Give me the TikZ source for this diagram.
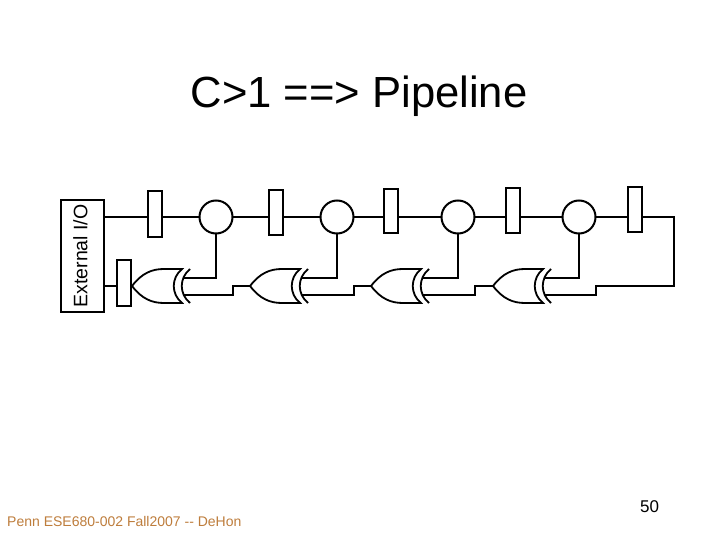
\documentclass[tikz,border=0pt]{standalone}
\usepackage{fontspec}
\setmainfont{Liberation Sans}
\definecolor{footcol}{RGB}{190,125,60}
\tikzset{
  x=1pt,y=-1pt,
  wire/.style={draw=black,line width=1.6pt,line cap=rect},
  regbox/.style={draw=black,fill=white,line width=2pt,rectangle,inner sep=0pt,minimum width=14pt},
  tap/.style={draw=black,fill=white,line width=2pt,circle,inner sep=0pt,minimum size=33pt},
  gateline/.style={draw=black,line width=1.8pt,fill=white},
  txt/.style={inner sep=0pt,text=black}
}
% #1 name prefix, #2 tip x (tip y is 286)
\newcommand{\xorgate}[2]{%
  \coordinate (#1tip) at (#2,286);
  \coordinate (#1in) at (#2+53,278);
  \coordinate (#1inb) at (#2+53,295);
  \draw[gateline] (#2,286) .. controls (#2+10,273) and (#2+20,269) .. (#2+32,269)
    -- (#2+50,269) .. controls (#2+39,278) and (#2+39,294) .. (#2+50,303)
    -- (#2+32,303) .. controls (#2+20,303) and (#2+10,299) .. (#2,286) -- cycle;
  \draw[gateline,fill=none] (#2+58,269) .. controls (#2+47,278) and (#2+47,294) .. (#2+58,303);
}
\begin{document}
\begin{tikzpicture}
\useasboundingbox[fill=white] (0,0) rectangle (720,540);
\node[txt,font=\fontsize{43.6pt}{44pt}\selectfont] (title) at (359,96.5) {C>1 ==> Pipeline};
\node[txt,text=footcol,font=\fontsize{14pt}{16pt}\selectfont,anchor=west] (foot) at (7,521) {Penn ESE680-002 Fall2007 {-}{-} DeHon};
\node[txt,font=\fontsize{17pt}{18pt}\selectfont] (num) at (649.5,507) {50};
\node[draw=black,line width=2pt,minimum width=43pt,minimum height=112pt,inner sep=0pt] (io) at (82.5,256) {};
\node[txt,rotate=90,font=\fontsize{19.5pt}{20pt}\selectfont] (iolabel) at (80.5,256) {External I/O};
\coordinate (c1) at (216,217);
\coordinate (c2) at (337,217);
\coordinate (c3) at (458,217);
\coordinate (c4) at (579,217);
\coordinate (corner) at (674,217);
\coordinate (s1) at (233,295);
\coordinate (s2) at (354,295);
\coordinate (s3) at (475,295);
\coordinate (s4) at (596,295);
\xorgate{ga}{132}
\xorgate{gb}{250}
\xorgate{gc}{371}
\xorgate{gd}{493}
\draw[wire] (io.east |- c1) -- (c4) -- (corner) |- (s4 |- gdtip) -- (s4) -- (gdinb);
\draw[wire] (c1) |- (gain);
\draw[wire] (c2) |- (gbin);
\draw[wire] (c3) |- (gcin);
\draw[wire] (c4) |- (gdin);
\draw[wire] (gainb) -- (s1) |- (gbtip);
\draw[wire] (gbinb) -- (s2) |- (gctip);
\draw[wire] (gcinb) -- (s3) |- (gdtip);
\node[regbox,minimum height=46pt] (r1) at (154.5,214) {};
\node[regbox,minimum height=45pt] (r2) at (276,212.5) {};
\node[regbox,minimum height=44pt] (r3) at (391,211) {};
\node[regbox,minimum height=45pt] (r4) at (512.5,210.5) {};
\node[regbox,minimum height=45pt] (r5) at (634.5,209.5) {};
\node[regbox,minimum height=46pt] (r0) at (123.5,283) {};
\draw[wire] (io.east |- gatip) -- (r0.west |- gatip);
\node[tap] (t1) at (c1) {};
\node[tap] (t2) at (c2) {};
\node[tap] (t3) at (c3) {};
\node[tap] (t4) at (c4) {};
\end{tikzpicture}
\end{document}
